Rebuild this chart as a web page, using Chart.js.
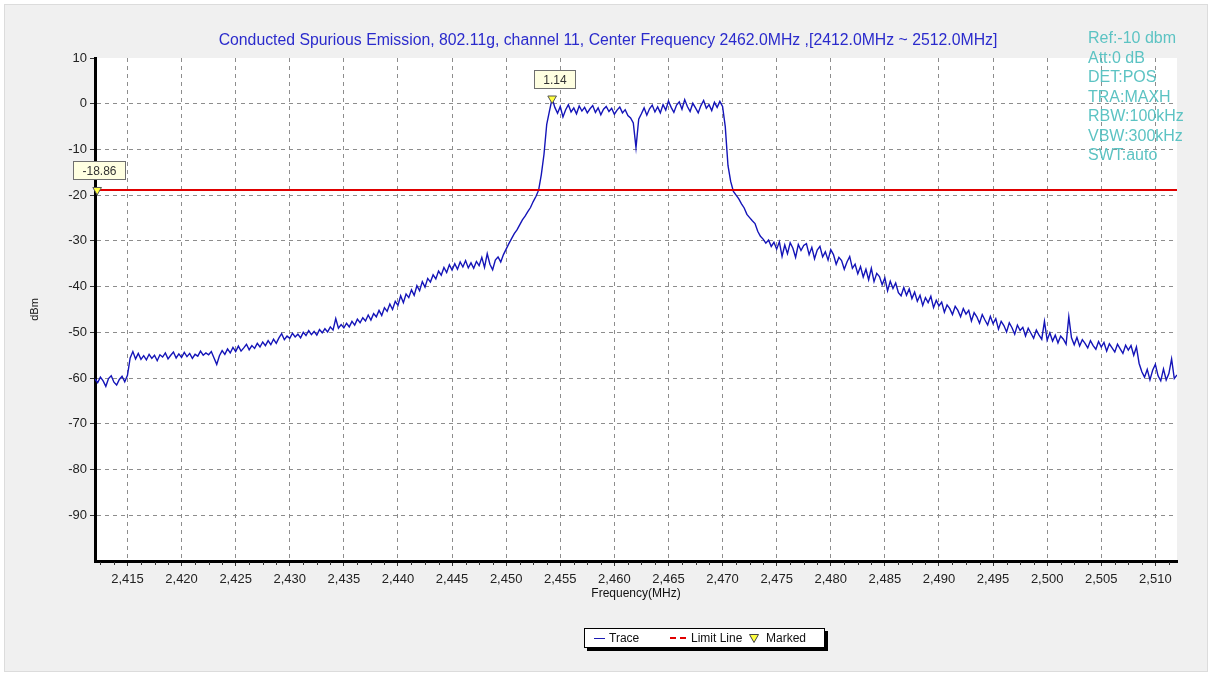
<!DOCTYPE html>
<html>
<head>
<meta charset="utf-8">
<title>Conducted Spurious Emission</title>
<script src="https://cdn.jsdelivr.net/npm/chart.js@4.4.0/dist/chart.umd.min.js"></script>
<style>
    html, body { margin: 0; padding: 0; background: #fff; }
    #wrap { position: relative; width: 1213px; height: 677px; overflow: hidden; font-family: Arial, "Liberation Sans", sans-serif; }
    #panel { position: absolute; left: 4px; top: 4px; width: 1204px; height: 668px; background: #f0f0f0; border: 1px solid #dcdcdc; box-sizing: border-box; }
    #chart { position: absolute; left: 0; top: 0; }
    #title { position: absolute; left: 0; top: 31px; width: 1216px; text-align: center; color: #2b2bcc; font-size: 15.8px; white-space: nowrap; }
    #info { position: absolute; left: 1088px; top: 28px; color: #5cc3c3; font-size: 16px; line-height: 19.5px; white-space: nowrap; }
    #legend { position: absolute; left: 584px; top: 628px; width: 241px; height: 20px; background: #fff; border: 1px solid #000; box-sizing: border-box; box-shadow: 3px 3px 0 #000; font-size: 12px; color: #111; }
    #legend .sym, #legend .txt { position: absolute; }
    #legend .txt { top: 2px; }
</style>
</head>
<body>
<div id="wrap">
    <div id="panel"></div>
    <canvas id="chart" width="1213" height="677"></canvas>
    <div id="title">Conducted Spurious Emission, 802.11g, channel 11, Center Frequency 2462.0MHz ,[2412.0MHz ~ 2512.0MHz]</div>
    <div id="info">
        <div>Ref:-10 dbm</div>
        <div>Att:0 dB</div>
        <div>DET:POS</div>
        <div>TRA:MAXH</div>
        <div>RBW:100kHz</div>
        <div>VBW:300kHz</div>
        <div>SWT:auto</div>
    </div>
    <div id="legend">
        <span class="sym" style="left:9px;top:9px;width:11px;border-top:1px solid #1a1ab4;"></span>
        <span class="txt" style="left:24px;">Trace</span>
        <span class="sym" style="left:85px;top:8px;width:6px;border-top:2px solid #e00000;"></span>
        <span class="sym" style="left:95px;top:8px;width:6px;border-top:2px solid #e00000;"></span>
        <span class="txt" style="left:106px;">Limit Line</span>
        <svg class="sym" style="left:164px;top:5px;" width="10" height="9"><polygon points="0.5,0.5 9.5,0.5 5,8.5" fill="#ffff40" stroke="#444" stroke-width="1"/></svg>
        <span class="txt" style="left:181px;">Marked</span>
    </div>
</div>
<script>
// Achsen
const xTickValues = [2415, 2420, 2425, 2430, 2435, 2440, 2445, 2450, 2455, 2460, 2465, 2470, 2475, 2480, 2485, 2490, 2495, 2500, 2505, 2510];
const yTickValues = [-90, -80, -70, -60, -50, -40, -30, -20, -10, 0, 10];

// Messkurve, Abstand 0.25 MHz ab 2412.0 MHz (dBm)
const freqStart = 2412;
const freqStep = 0.25;

// 2412.00 - 2435.00
const skirtLow = [
    -60.2, -61.0, -59.8, -60.6, -61.8, -60.1, -59.5, -60.9, -61.5, -60.3, -59.6, -60.8,
    -59.4,
    -55.6, -54.2, -55.8, -54.6, -55.9, -55.1, -56.0, -54.8, -55.7, -55.0, -56.2, -54.9, -55.4, -54.5, -55.8, -55.0, -54.3, -55.6, -54.7, -55.5,
    -54.4, -55.3, -54.6, -55.7, -54.8, -55.2, -54.1, -55.0, -54.5, -54.9, -54.2, -55.6, -57.0, -55.1, -54.0, -54.8, -53.6, -54.5, -53.3, -54.2,
    -53.0, -54.1, -53.4, -52.6, -53.8, -52.9, -53.5, -52.4, -53.2, -52.1, -52.9, -51.8, -52.7, -51.5, -52.4, -51.2, -50.3, -51.6, -50.8, -51.3,
    -50.2, -51.0, -50.4, -51.2, -50.0, -50.7, -49.6, -50.5, -49.8, -50.6, -49.4, -50.1, -49.2, -49.9, -48.8, -49.5, -47.0, -49.1, -48.3, -49.0
];
// 2435.25 - 2454.25
const rampUp = [
    -48.0, -48.8, -47.6, -48.4, -47.1, -47.9, -46.8, -47.5, -46.2, -47.3, -45.9, -46.6, -45.2, -46.3, -44.6, -45.4, -43.8, -45.0, -43.2, -44.1,
    -42.0, -43.5, -41.6, -42.4, -40.7, -41.9, -39.8, -40.9, -38.9, -40.1, -38.2, -39.0, -37.4, -38.3, -36.6, -37.5, -35.8, -36.9, -35.2, -36.4,
    -35.0, -36.2, -34.6, -35.7, -34.3, -35.9, -34.8, -36.0, -34.5, -35.4, -33.6, -35.8, -32.8, -35.1, -36.3, -34.2, -33.5, -34.6, -33.0, -31.8,
    -30.6, -29.5, -28.4, -27.6, -26.5, -25.4, -24.6, -23.6, -22.7, -21.4, -20.3, -18.9, -15.5, -11.0, -4.5, -1.6, 1.14
];
// 2454.50 - 2470.00
const channelTop = [
    -0.8, -2.1, -0.6, -2.9, -1.3, -0.2, -1.8, -0.9, -2.2, -0.5,
    -1.6, -0.8, -2.0, -1.1, -0.4, -1.9, -0.9, -2.4, -1.2, -0.6,
    -1.7, -1.0, -2.3, -1.4, -0.7, -2.0, -1.3, -2.6, -3.1, -4.2,
    -9.6, -3.4, -2.2, -0.9, -2.5, -1.1, -0.3, -1.8, -0.7, -2.0,
    -0.2, -1.4, 0.6, -0.8, -1.9, -0.3, 0.4, -1.2, 0.9, -0.6,
    -1.7, 0.1, -0.9, -2.0, -0.4, 0.7, -1.0, -0.2, -1.5, 0.3,
    -0.8, 0.5, -0.6
];
// 2470.25 - 2512.00
const skirtHigh = [
    -5.0, -13.5, -17.0, -19.2, -20.0, -20.8, -21.9, -22.8, -24.2, -24.9,
    -25.6, -26.2, -27.9, -29.0, -29.6, -30.5, -29.8, -31.2, -30.3, -31.8,
    -30.2, -33.4, -30.9, -32.8, -30.4, -31.6, -33.6, -30.8, -32.1, -31.0,
    -30.6, -33.0, -31.4, -33.9, -32.0, -31.2, -33.5, -32.4, -34.2, -31.9,
    -33.0, -35.1, -33.6, -34.3, -36.2, -34.6, -33.4, -36.0, -35.1, -37.2,
    -35.6, -37.9, -36.2, -38.5, -36.0, -38.9, -37.1, -37.8, -39.6, -38.1,
    -40.9, -38.8, -40.4, -39.2, -41.3, -42.0, -40.2, -41.9, -40.5, -42.6,
    -41.2, -43.2, -41.9, -44.1, -42.4, -43.5, -42.1, -44.6, -43.0, -44.2,
    -43.4, -45.6, -44.0, -44.8, -46.1, -44.3, -45.2, -46.6, -44.8, -46.0,
    -45.2, -47.5, -45.7, -46.6, -48.0, -46.1, -47.3, -48.4, -46.5, -48.1,
    -47.0, -49.3, -47.6, -48.5, -49.9, -47.9, -49.0, -50.4, -48.4, -49.6,
    -48.9, -50.8, -49.1, -50.2, -51.3, -49.5, -50.6, -51.5, -47.6, -51.7,
    -50.1, -51.9, -50.6, -52.3, -50.8, -51.5, -52.6, -46.6, -51.2, -52.7,
    -51.1, -53.0, -51.6, -52.4, -53.4, -51.8, -52.9, -53.7, -52.0, -53.2,
    -52.2, -54.1, -52.5, -53.4, -54.3, -52.6, -53.6, -54.6, -52.8, -53.9,
    -52.9, -55.0, -53.2, -56.8, -58.6, -59.8, -58.1, -60.4, -58.3, -57.0,
    -59.5, -60.6, -58.0, -60.4, -59.0, -55.8, -60.1, -59.3
];

// Grenzlinie
const limitFreqs = [2412, 2512];
const limitDbm = [-18.86, -18.86];

// Marker
const markerFreqs = [2412.2, 2454.25];
const markerDbm = [-18.86, 1.14];
const markerLabels = ['-18.86', '1.14'];

const FONT = 'Arial, "Liberation Sans", sans-serif';
Chart.defaults.font.family = FONT;

const traceDbm = [].concat(skirtLow, rampUp, channelTop, skirtHigh);
const tracePoints = traceDbm.map((v, i) => ({ x: freqStart + i * freqStep, y: v }));
const limitPoints = limitFreqs.map((f, i) => ({ x: f, y: limitDbm[i] }));
const markerPoints = markerFreqs.map((f, i) => ({ x: f, y: markerDbm[i] }));

// weißer Plotbereich
const plotBackground = {
    id: 'plotBackground',
    beforeDraw(chart) {
        const { ctx, chartArea: a } = chart;
        ctx.save();
        ctx.fillStyle = '#ffffff';
        ctx.fillRect(a.left, a.top, a.width, a.height);
        ctx.restore();
    }
};

// kleine Teilstriche unter der x-Achse
const minorTicks = {
    id: 'minorTicks',
    afterDraw(chart) {
        const { ctx, chartArea: a } = chart;
        const sx = chart.scales.x;
        ctx.save();
        ctx.strokeStyle = '#333';
        ctx.lineWidth = 1;
        ctx.beginPath();
        for (let v = sx.min + 0.5; v < sx.max; v += 1.25) {
            if (Math.abs(v % 5) < 0.01) continue;
            const px = Math.round(sx.getPixelForValue(v)) + 0.5;
            ctx.moveTo(px, a.bottom + 1);
            ctx.lineTo(px, a.bottom + 4);
        }
        ctx.stroke();
        ctx.restore();
    }
};

// Beschriftungskästchen über den Markern
const markerTags = {
    id: 'markerTags',
    afterDatasetsDraw(chart) {
        const ctx = chart.ctx;
        const meta = chart.getDatasetMeta(0);
        ctx.save();
        ctx.font = '12px ' + FONT;
        ctx.textAlign = 'center';
        ctx.textBaseline = 'middle';
        meta.data.forEach((pt, i) => {
            const txt = markerLabels[i];
            const w = Math.round(ctx.measureText(txt).width) + 18;
            const h = 18;
            const bx = Math.round(pt.x - w / 2 + 2) + 0.5;
            const by = Math.round(pt.y - 11 - h) + 0.5;
            ctx.fillStyle = '#ffffe1';
            ctx.strokeStyle = '#6f6f6f';
            ctx.lineWidth = 1;
            ctx.fillRect(bx, by, w, h);
            ctx.strokeRect(bx, by, w, h);
            ctx.fillStyle = '#333';
            ctx.fillText(txt, bx + w / 2, by + h / 2 + 1);
        });
        ctx.restore();
    }
};

const gridColor = '#8d8d8d';

new Chart(document.getElementById('chart'), {
    type: 'line',
    data: {
        datasets: [
            {
                label: 'Marked',
                type: 'scatter',
                data: markerPoints,
                pointStyle: 'triangle',
                rotation: 180,
                pointRadius: 5,
                backgroundColor: '#ffff40',
                borderColor: '#555',
                borderWidth: 1,
                clip: false
            },
            {
                label: 'Limit Line',
                data: limitPoints,
                borderColor: '#e00000',
                borderWidth: 2,
                pointRadius: 0
            },
            {
                label: 'Trace',
                data: tracePoints,
                borderColor: '#1414b8',
                borderWidth: 1.4,
                pointRadius: 0,
                tension: 0
            }
        ]
    },
    options: {
        responsive: false,
        animation: false,
        layout: { padding: { left: 24, top: 58, right: 36, bottom: 72 } },
        plugins: {
            legend: { display: false },
            title: { display: false },
            tooltip: { enabled: false }
        },
        scales: {
            x: {
                type: 'linear',
                min: 2412,
                max: 2512,
                afterBuildTicks: s => { s.ticks = xTickValues.map(v => ({ value: v })); },
                afterFit: s => { s.height = 44; },
                grid: { color: gridColor, lineWidth: 1, tickLength: 5, tickColor: '#333', tickBorderDash: [] },
                border: { display: true, color: '#000', width: 3, dash: [4, 4] },
                ticks: {
                    color: '#222',
                    font: { size: 13 },
                    padding: 6,
                    maxRotation: 0,
                    autoSkip: false,
                    callback: v => v.toLocaleString('en-US')
                },
                title: { display: true, text: 'Frequency(MHz)', color: '#111', font: { size: 12 }, padding: { top: 2, bottom: 4 } }
            },
            y: {
                min: -100,
                max: 10,
                afterBuildTicks: s => { s.ticks = yTickValues.map(v => ({ value: v })); },
                afterFit: s => { s.width = 71; },
                grid: {
                    color: c => (c.tick && c.tick.value === 10 ? 'rgba(0,0,0,0)' : gridColor),
                    lineWidth: 1,
                    tickLength: 5,
                    tickColor: '#333',
                    tickBorderDash: []
                },
                border: { display: true, color: '#000', width: 3, dash: [4, 4] },
                ticks: { color: '#222', font: { size: 13 }, padding: 3 },
                title: { display: true, text: 'dBm', color: '#111', font: { size: 11 }, padding: { top: 4, bottom: 4 } }
            }
        }
    },
    plugins: [plotBackground, minorTicks, markerTags]
});
</script>
</body>
</html>
